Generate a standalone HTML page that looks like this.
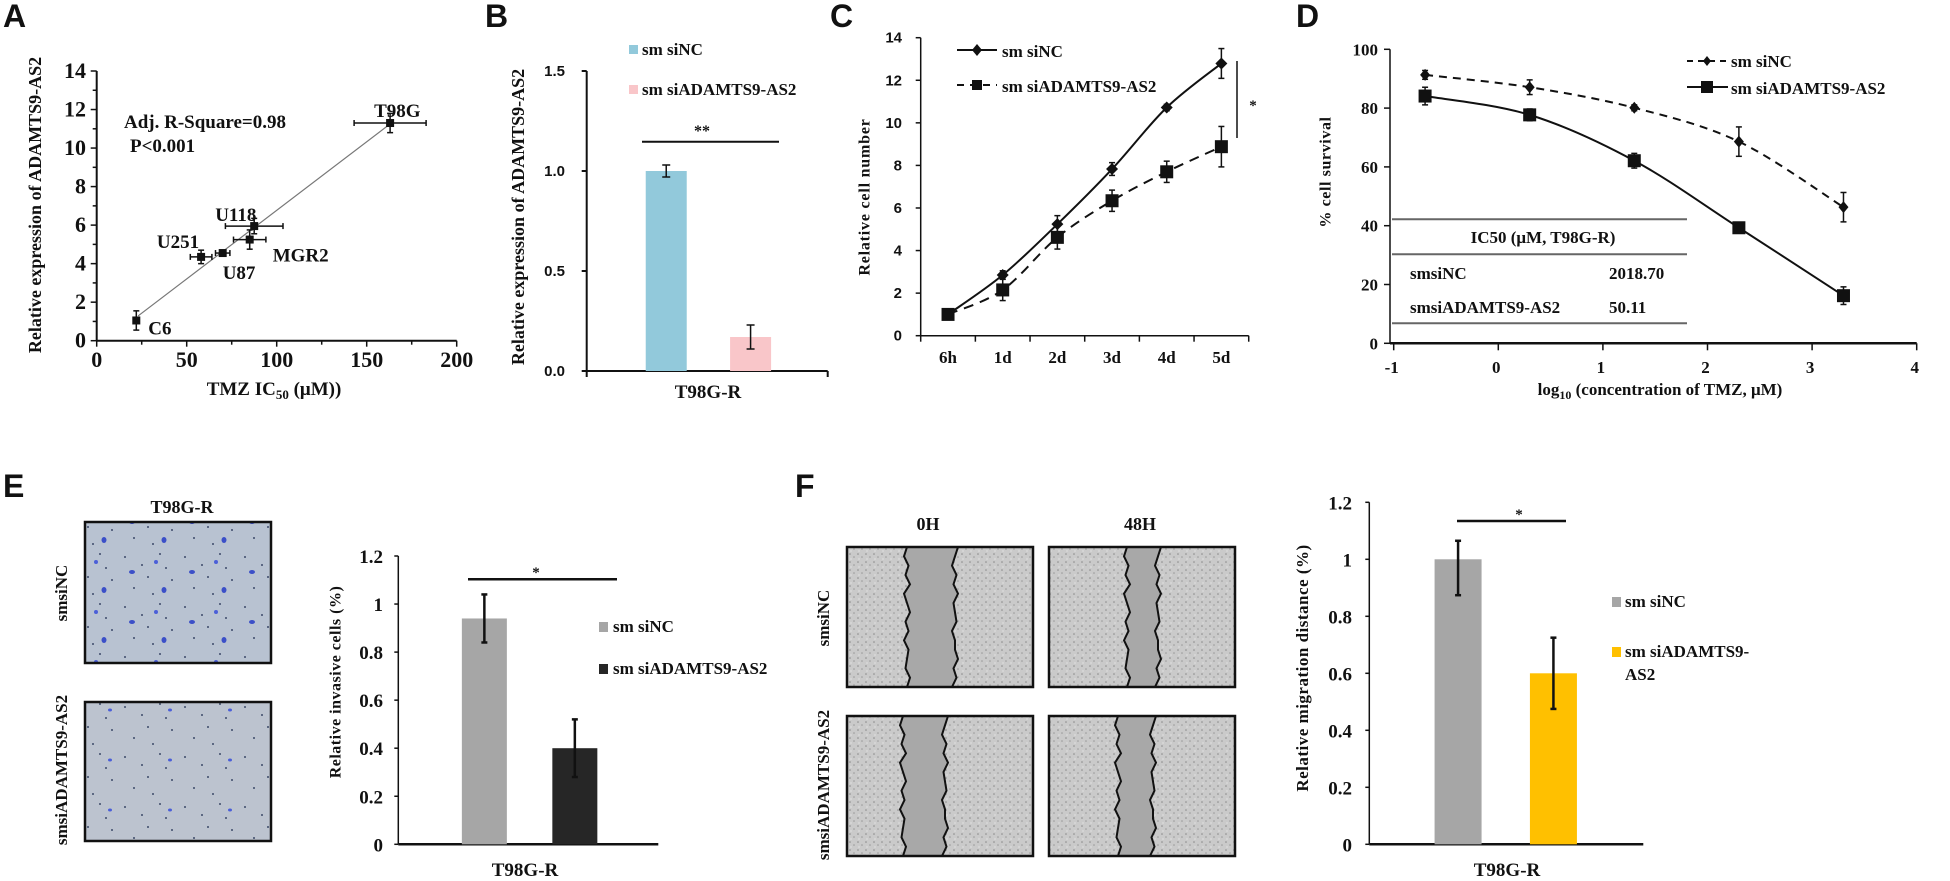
<!DOCTYPE html>
<html><head><meta charset="utf-8"><style>
html,body{margin:0;padding:0;background:#fff;}
svg{display:block;}
text{font-family:"Liberation Serif",serif;font-weight:bold;fill:#111;}
.sans{font-family:"Liberation Sans",sans-serif;}
</style></head><body>
<svg id="fig" xmlns="http://www.w3.org/2000/svg" width="1950" height="881" viewBox="0 0 1950 881">
<defs>
<pattern id="invA" width="60" height="50" patternUnits="userSpaceOnUse">
<rect width="60" height="50" fill="#B8C2D1"/>
<circle cx="5" cy="7" r="1" fill="#3d4a6a"/><circle cx="22" cy="15" r="1" fill="#3d4a6a"/><circle cx="40" cy="4" r="1" fill="#3d4a6a"/><circle cx="52" cy="30" r="1" fill="#3d4a6a"/><circle cx="14" cy="38" r="1" fill="#3d4a6a"/><circle cx="33" cy="44" r="1" fill="#3d4a6a"/><circle cx="46" cy="18" r="1" fill="#3d4a6a"/><circle cx="28" cy="27" r="1" fill="#3d4a6a"/>
<ellipse cx="12" cy="22" rx="3" ry="2" fill="#3B4FC8"/><ellipse cx="44" cy="40" rx="2.5" ry="3" fill="#3B4FC8"/><ellipse cx="36" cy="12" rx="2" ry="2" fill="#4B5FD8"/>
</pattern>
<pattern id="invB" width="60" height="50" patternUnits="userSpaceOnUse">
<rect width="60" height="50" fill="#BCC3CF"/>
<circle cx="5" cy="7" r="1" fill="#3d4a6a"/><circle cx="22" cy="15" r="1" fill="#3d4a6a"/><circle cx="40" cy="4" r="1" fill="#3d4a6a"/><circle cx="52" cy="30" r="1" fill="#3d4a6a"/><circle cx="14" cy="38" r="1" fill="#3d4a6a"/><circle cx="33" cy="44" r="1" fill="#3d4a6a"/><circle cx="46" cy="18" r="1" fill="#3d4a6a"/><circle cx="28" cy="27" r="1" fill="#3d4a6a"/>
<ellipse cx="50" cy="10" rx="2" ry="1.5" fill="#4B5FD8"/>
</pattern>
<pattern id="scr" width="8" height="8" patternUnits="userSpaceOnUse">
<rect width="8" height="8" fill="#CACACA"/><circle cx="2" cy="2" r="0.8" fill="#8a8a8a"/><circle cx="6" cy="5" r="0.8" fill="#9a9a9a"/><circle cx="3" cy="7" r="0.6" fill="#eee"/>
</pattern>
</defs>

<text class="sans" x="3" y="27" font-size="32">A</text>
<text class="sans" x="485" y="27" font-size="32">B</text>
<text class="sans" x="830" y="27" font-size="32">C</text>
<text class="sans" x="1296" y="27" font-size="32">D</text>
<text class="sans" x="3" y="497" font-size="32">E</text>
<text class="sans" x="795" y="497" font-size="32">F</text>

<!-- Panel A texts -->
<text x="37" y="205" font-size="18" text-anchor="middle" transform="rotate(-90 37 205)" dominant-baseline="middle">Relative expression of ADAMTS9-AS2</text>
<text x="274" y="395" font-size="19" text-anchor="middle">TMZ IC<tspan font-size="13" dy="4">50</tspan><tspan dy="-4"> (μM))</tspan></text>
<text x="124" y="128" font-size="19">Adj.  R-Square=0.98</text>
<text x="130" y="152" font-size="19">P&lt;0.001</text>

<!-- Panel B texts -->
<text x="520" y="217" font-size="18" text-anchor="middle" transform="rotate(-90 520 217)" dominant-baseline="middle">Relative expression of ADAMTS9-AS2</text>
<text x="708" y="398" font-size="19" text-anchor="middle">T98G-R</text>
<rect x="629" y="45" width="9" height="9" fill="#92C9DB"/>
<text x="642" y="55" font-size="17">sm siNC</text>
<rect x="629" y="85" width="9" height="9" fill="#F9C6C9"/>
<text x="642" y="95" font-size="17">sm siADAMTS9-AS2</text>
<line x1="642" y1="141.7" x2="779" y2="141.7" stroke="#111" stroke-width="2"/>
<text x="702" y="136" font-size="16" text-anchor="middle">**</text>

<!-- Panel C texts -->
<text x="866" y="197" font-size="16" text-anchor="middle" letter-spacing="0.8" transform="rotate(-90 866 197)" dominant-baseline="middle">Relative cell number</text>
<line x1="957" y1="50" x2="997" y2="50" stroke="#111" stroke-width="2"/>
<path d="M977 44 L982 50 L977 56 L972 50Z" fill="#111"/>
<text x="1002" y="57" font-size="17">sm siNC</text>
<line x1="957" y1="85" x2="997" y2="85" stroke="#111" stroke-width="2" stroke-dasharray="7,6"/>
<rect x="972" y="80" width="10" height="10" fill="#111"/>
<text x="1002" y="92" font-size="17">sm siADAMTS9-AS2</text>
<line x1="1237" y1="61" x2="1237" y2="138" stroke="#111" stroke-width="1.5"/>
<text x="1253" y="110" font-size="15" text-anchor="middle">*</text>

<!-- Panel D texts -->
<text x="1327" y="172" font-size="16" text-anchor="middle" letter-spacing="0.6" transform="rotate(-90 1327 172)" dominant-baseline="middle">% cell survival</text>
<text x="1660" y="395" font-size="17" text-anchor="middle">log<tspan font-size="12" dy="4">10</tspan><tspan dy="-4"> (concentration  of TMZ, μM)</tspan></text>
<line x1="1687" y1="61" x2="1728" y2="61" stroke="#111" stroke-width="2" stroke-dasharray="6,5"/>
<path d="M1707 56 L1711 61 L1707 66 L1703 61Z" fill="#111"/>
<text x="1731" y="67" font-size="17">sm siNC</text>
<line x1="1687" y1="87" x2="1728" y2="87" stroke="#111" stroke-width="2"/>
<rect x="1701" y="81" width="12" height="12" fill="#111"/>
<text x="1731" y="94" font-size="17">sm siADAMTS9-AS2</text>
<g>
<line x1="1392" y1="219.3" x2="1687" y2="219.3" stroke="#666" stroke-width="2"/>
<line x1="1392" y1="254.3" x2="1687" y2="254.3" stroke="#666" stroke-width="2"/>
<line x1="1392" y1="323.3" x2="1687" y2="323.3" stroke="#666" stroke-width="2"/>
<text x="1543" y="243" font-size="17" text-anchor="middle">IC50  (μM, T98G-R)</text>
<text x="1410" y="279" font-size="17">smsiNC</text>
<text x="1609" y="279" font-size="17">2018.70</text>
<text x="1410" y="313" font-size="17">smsiADAMTS9-AS2</text>
<text x="1609" y="313" font-size="17">50.11</text>
</g>

<!-- Panel E -->
<text x="182" y="513" font-size="18" text-anchor="middle">T98G-R</text>
<rect x="85" y="522" width="186" height="141" fill="url(#invA)" stroke="#111" stroke-width="2.5"/>
<rect x="85" y="702" width="186" height="139" fill="url(#invB)" stroke="#111" stroke-width="2.5"/>
<text x="63" y="593" font-size="17" text-anchor="middle" transform="rotate(-90 63 593)" dominant-baseline="middle">smsiNC</text>
<text x="63" y="770" font-size="17" text-anchor="middle" transform="rotate(-90 63 770)" dominant-baseline="middle">smsiADAMTS9-AS2</text>
<text x="337" y="682" font-size="16" text-anchor="middle" letter-spacing="0.5" transform="rotate(-90 337 682)" dominant-baseline="middle">Relative invasive cells (%)</text>
<text x="525" y="876" font-size="19" text-anchor="middle">T98G-R</text>
<rect x="599" y="622" width="9" height="10" fill="#A6A6A6"/>
<text x="613" y="632" font-size="17">sm siNC</text>
<rect x="599" y="664" width="9" height="10" fill="#262626"/>
<text x="613" y="674" font-size="17">sm siADAMTS9-AS2</text>
<line x1="468" y1="579.3" x2="617" y2="579.3" stroke="#111" stroke-width="2.5"/>
<text x="536" y="577" font-size="15" text-anchor="middle">*</text>

<!-- Panel F -->
<text x="928" y="530" font-size="18" text-anchor="middle">0H</text>
<text x="1140" y="530" font-size="18" text-anchor="middle">48H</text>
<text x="825" y="618" font-size="17" text-anchor="middle" transform="rotate(-90 825 618)" dominant-baseline="middle">smsiNC</text>
<text x="825" y="785" font-size="17" text-anchor="middle" transform="rotate(-90 825 785)" dominant-baseline="middle">smsiADAMTS9-AS2</text>
<g id="fphotos"></g>
<text x="1304" y="668" font-size="17" text-anchor="middle" letter-spacing="0.5" transform="rotate(-90 1304 668)" dominant-baseline="middle">Relative migration  distance (%)</text>
<text x="1507" y="876" font-size="19" text-anchor="middle">T98G-R</text>
<rect x="1612" y="597" width="9" height="10" fill="#A6A6A6"/>
<text x="1625" y="607" font-size="17">sm siNC</text>
<rect x="1612" y="647" width="9" height="10" fill="#FFC000"/>
<text x="1625" y="657" font-size="17">sm siADAMTS9-</text>
<text x="1625" y="680" font-size="17">AS2</text>
<line x1="1457" y1="521" x2="1566" y2="521" stroke="#111" stroke-width="2.5"/>
<text x="1519" y="519" font-size="15" text-anchor="middle">*</text>
</svg>
<script>
// ---------- DATA ----------
// Panel A
const aCells=['C6','U251','U87','MGR2','U118','T98G'];
const aIC50=[22,58,70,85,87.5,163];
const aExpr=[1.05,4.35,4.55,5.25,5.95,11.3];
const aIC50Err=[1,6,4,9,16,20];
const aExprErr=[0.5,0.35,0.15,0.5,0.4,0.5];
const aXTicks=[0,50,100,150,200];
const aYTicks=[0,2,4,6,8,10,12,14];
// Panel B
const bGroups=['sm siNC','sm siADAMTS9-AS2'];
const bValues=[1.0,0.17];
const bErrors=[0.03,0.06];
const bYTicks=['0.0','0.5','1.0','1.5'];
// Panel C
const cDays=['6h','1d','2d','3d','4d','5d'];
const cSiNC=[1.0,2.85,5.24,7.83,10.72,12.79];
const cSiNCErr=[0.15,0.2,0.4,0.3,0.15,0.7];
const cSiAD=[1.0,2.15,4.62,6.34,7.7,8.88];
const cSiADErr=[0.15,0.5,0.55,0.5,0.5,0.95];
const cYTicks=[0,2,4,6,8,10,12,14];
// Panel D
const dLogConc=[-0.7,0.3,1.3,2.3,3.3];
const dSiNC=[91.3,87.1,80.1,68.6,46.3];
const dSiNCErr=[1.5,2.5,1,5,5];
const dSiAD=[84.1,77.7,62.1,39.3,16.2];
const dSiADErr=[3,2,2.5,1,3];
const dXTicks=[-1,0,1,2,3,4];
const dYTicks=[0,20,40,60,80,100];
// Panel E
const eValues=[0.94,0.40];
const eErrors=[0.10,0.12];
const eYTicks=['0','0.2','0.4','0.6','0.8','1','1.2'];
// Panel F
const fValues=[1.0,0.60];
const fErrHigh=[0.065,0.125];
const fErrLow=[0.126,0.125];
const fYTicks=['0','0.2','0.4','0.6','0.8','1','1.2'];

// ---------- HELPERS ----------
const NS='http://www.w3.org/2000/svg';
const svg=document.getElementById('fig');
function mk(tag,attrs,parent){const e=document.createElementNS(NS,tag);for(const k in attrs)e.setAttribute(k,attrs[k]);(parent||svg).appendChild(e);return e;}
function lin(d0,d1,r0,r1){return v=>r0+(v-d0)*(r1-r0)/(d1-d0);}
function ln(x1,y1,x2,y2,w,extra){const a={x1:x1,y1:y1,x2:x2,y2:y2,stroke:'#111','stroke-width':w||1.5};if(extra)for(const k in extra)a[k]=extra[k];return mk('line',a);}
function txt(x,y,s,size,anchor,cls){const t=mk('text',{x:x,y:y,'font-size':size,'text-anchor':anchor||'middle'});if(cls)t.setAttribute('class',cls);t.textContent=s;return t;}
function smooth(pts){let d='M'+pts[0][0]+' '+pts[0][1];for(let i=0;i<pts.length-1;i++){const p0=pts[i-1]||pts[i],p1=pts[i],p2=pts[i+1],p3=pts[i+2]||p2;const c1x=p1[0]+(p2[0]-p0[0])/6,c1y=p1[1]+(p2[1]-p0[1])/6,c2x=p2[0]-(p3[0]-p1[0])/6,c2y=p2[1]-(p3[1]-p1[1])/6;d+=' C'+c1x+' '+c1y+' '+c2x+' '+c2y+' '+p2[0]+' '+p2[1];}return d;}
function vErr(x,y1,y2,cap,w){const g=mk('g',{});ln(x,y1,x,y2,w||1.5);ln(x-cap,y1,x+cap,y1,w||1.5);ln(x-cap,y2,x+cap,y2,w||1.5);return g;}

// ---------- PANEL A ----------
(function(){
const xs=lin(0,200,96.7,456.7), ys=lin(0,14,340.7,71);
let e=ln(xs(0),ys(0),xs(0),ys(14),2);


e=ln(xs(0),ys(0),xs(200),ys(0),2);


for(let v=0;v<=200;v+=25){e=ln(xs(v),ys(0),xs(v),ys(0)+(v%50===0?6:4),1.5);

}
for(let v=0;v<=14;v+=1){e=ln(xs(0),ys(v),xs(0)-(v%2===0?6:4),ys(v),1.5);

}
aXTicks.forEach(v=>{e=txt(xs(v),367,String(v),22);

});
aYTicks.forEach(v=>{e=txt(86,ys(v)+7,String(v),22,'end');

});
// regression
const n=aIC50.length;let mx=0,my=0;for(let i=0;i<n;i++){mx+=aIC50[i];my+=aExpr[i];}mx/=n;my/=n;
let sxy=0,sxx=0;for(let i=0;i<n;i++){sxy+=(aIC50[i]-mx)*(aExpr[i]-my);sxx+=(aIC50[i]-mx)**2;}
const slope=sxy/sxx,icp=my-slope*mx;const x0=Math.min(...aIC50)+1,x1=Math.max(...aIC50);
e=ln(xs(x0),ys(icp+slope*x0),xs(x1),ys(icp+slope*x1),1.2,{stroke:'#777'});


const lblDx=[12,-2,0,23,-39,-16], lblDy=[14,-9,26,22,-5,-6], lblAnchor=['start','end','start','start','start','start'];
for(let i=0;i<n;i++){
const px=xs(aIC50[i]),py=ys(aExpr[i]);
e=ln(xs(aIC50[i]-aIC50Err[i]),py,xs(aIC50[i]+aIC50Err[i]),py,1.5);


e=ln(xs(aIC50[i]-aIC50Err[i]),py-3,xs(aIC50[i]-aIC50Err[i]),py+3,1.5);


e=ln(xs(aIC50[i]+aIC50Err[i]),py-3,xs(aIC50[i]+aIC50Err[i]),py+3,1.5);


e=vErr(px,ys(aExpr[i]+aExprErr[i]),ys(aExpr[i]-aExprErr[i]),3);


e=mk('rect',{x:px-4,y:py-4,width:8,height:8,fill:'#111'});


e=txt(px+lblDx[i],py+lblDy[i],aCells[i],19,lblAnchor[i]);


}
})();

// ---------- PANEL B ----------
(function(){
const x0=586.7,x1=827.7,ys=lin(0,1.5,371,71);
let e=ln(x0,ys(0),x0,ys(1.5),2);


e=ln(x0,ys(0),x1,ys(0),2);


e=ln(x0,ys(0),x0,ys(0)+6,2);


e=ln(x1,ys(0),x1,ys(0)+6,2);


bYTicks.forEach(s=>{const v=parseFloat(s);
e=ln(x0-5,ys(v),x0,ys(v),2);


e=txt(565,ys(v)+5,s,15,'end','sans');

});
const colors=['#92C9DB','#F9C6C9'];const w=x1-x0;
bValues.forEach((v,i)=>{const cx=x0+w*(0.33+i*0.35);
e=mk('rect',{x:cx-20.5,y:ys(v),width:41,height:ys(0)-ys(v),fill:colors[i]});


e=vErr(cx,ys(v+bErrors[i]),ys(v-bErrors[i]),4,1.5);

});
})();

// ---------- PANEL C ----------
(function(){
const bx=920.7,step=54.67,ys=lin(0,14,335.7,37.7);
const cx=i=>bx+step*(i+0.5);
let e=ln(bx,ys(0),bx,ys(14),1.5);


e=ln(bx,ys(0),bx+step*cDays.length,ys(0),1.5);


for(let k=0;k<=cDays.length;k++){e=ln(bx+step*k,ys(0),bx+step*k,ys(0)+6,1.5);

}
cYTicks.forEach(v=>{e=ln(bx-5,ys(v),bx,ys(v),1.5);


e=txt(902,ys(v)+5,String(v),15,'end','sans');

});
cDays.forEach((d,i)=>{e=txt(cx(i),363,d,17);

});
e=mk('path',{d:smooth(cSiAD.map((v,i)=>[cx(i),ys(v)])),fill:'none',stroke:'#111','stroke-width':2,'stroke-dasharray':'10,7'});


e=mk('path',{d:smooth(cSiNC.map((v,i)=>[cx(i),ys(v)])),fill:'none',stroke:'#111','stroke-width':2});


cSiAD.forEach((v,i)=>{e=vErr(cx(i),ys(v+cSiADErr[i]),ys(v-cSiADErr[i]),3,1.5);


e=mk('rect',{x:cx(i)-6.5,y:ys(v)-6.5,width:13,height:13,fill:'#111'});

});
cSiNC.forEach((v,i)=>{e=vErr(cx(i),ys(v+cSiNCErr[i]),ys(v-cSiNCErr[i]),3,1.5);


const x=cx(i),y=ys(v);
e=mk('path',{d:'M'+x+' '+(y-6)+' L'+(x+6)+' '+y+' L'+x+' '+(y+6)+' L'+(x-6)+' '+y+'Z',fill:'#111'});

});
})();

// ---------- PANEL D ----------
(function(){
const xs=lin(-1,4,1393.7,1916.7),ys=lin(0,100,343.3,49.3);
let e=ln(1390,ys(0),1390,ys(100),1.5);


e=ln(1390,ys(0),xs(4),ys(0),2.5);


dXTicks.forEach(v=>{e=ln(xs(v),ys(0),xs(v),ys(0)+7,1.5);


e=txt(xs(v)-2,373,String(v),17);

});
dYTicks.forEach(v=>{e=ln(1384,ys(v),1390,ys(v),1.5);


e=txt(1378,ys(v)+6,String(v),17,'end');

});
e=mk('path',{d:smooth(dSiNC.map((v,i)=>[xs(dLogConc[i]),ys(v)])),fill:'none',stroke:'#111','stroke-width':2,'stroke-dasharray':'8,6'});


e=mk('path',{d:smooth(dSiAD.map((v,i)=>[xs(dLogConc[i]),ys(v)])),fill:'none',stroke:'#111','stroke-width':2});


dSiNC.forEach((v,i)=>{const x=xs(dLogConc[i]),y=ys(v);
e=vErr(x,ys(v+dSiNCErr[i]),ys(v-dSiNCErr[i]),3,1.5);


e=mk('path',{d:'M'+x+' '+(y-6)+' L'+(x+5)+' '+y+' L'+x+' '+(y+6)+' L'+(x-5)+' '+y+'Z',fill:'#111'});

});
dSiAD.forEach((v,i)=>{const x=xs(dLogConc[i]),y=ys(v);
e=vErr(x,ys(v+dSiADErr[i]),ys(v-dSiADErr[i]),3,1.5);


e=mk('rect',{x:x-6.5,y:y-6.5,width:13,height:13,fill:'#111'});

});
})();

// ---------- BAR PANELS E & F ----------
function barPanel(p,x0,x1,y0,yTop,vals,errHi,errLo,ticks,colors,centers,bw,labelRight){
const ys=lin(0,1.2,y0,yTop);
let e=ln(x0,y0,x0,yTop,1.5);


e=ln(x0,y0,x1,y0,2.5);


ticks.forEach(s=>{const v=parseFloat(s);
e=ln(x0-4,ys(v),x0,ys(v),1.5);


e=txt(labelRight,ys(v)+7,s,19,'end');

});
vals.forEach((v,i)=>{const cx=x0+(x1-x0)*centers[i];
e=mk('rect',{x:cx-bw/2,y:ys(v),width:bw,height:y0-ys(v),fill:colors[i]});


e=vErr(cx,ys(v+errHi[i]),ys(v-errLo[i]),3,2.5);

});
}
barPanel('e',398.3,658.3,844.3,556,eValues,eErrors,eErrors,eYTicks,['#A6A6A6','#262626'],[0.331,0.679],45,383);
barPanel('f',1369.3,1643.3,844.3,502.3,fValues,fErrHigh,fErrLow,fYTicks,['#A6A6A6','#FFC000'],[0.324,0.672],47,1352);

// ---------- F wound photos (decorative) ----------
(function(){
const g=document.getElementById('fphotos');
const photos=[[847,547,'f-photo-sinc-0h',907,955],[1049,547,'f-photo-sinc-48h',1127,1158],[847,716,'f-photo-siadamts9-0h',903,945],[1049,716,'f-photo-siadamts9-48h',1118,1153]];
const wig=[0,-2,1,-1,2,-2,0,2,-1,1,-2,1,0,-1,2,0];
photos.forEach(ph=>{const [x,y,name,gl,gr]=ph;const w=186,h=140;
let e=mk('rect',{x:x,y:y,width:w,height:h,fill:'url(#scr)'},g);


let L=[],R=[];for(let k=0;k<wig.length;k++){const yy=y+h*k/(wig.length-1);L.push([gl+wig[k]*1.5,yy]);R.push([gr-wig[(k+5)%wig.length]*1.5,yy]);}
const poly=L.concat(R.slice().reverse()).map(p=>p.join(',')).join(' ');
e=mk('polygon',{points:poly,fill:'#A8A8A8'},g);


e=mk('polyline',{points:L.map(p=>p.join(',')).join(' '),fill:'none',stroke:'#111','stroke-width':2},g);


e=mk('polyline',{points:R.map(p=>p.join(',')).join(' '),fill:'none',stroke:'#111','stroke-width':2},g);


e=mk('rect',{x:x,y:y,width:w,height:h,fill:'none',stroke:'#111','stroke-width':2.5},g);


});
})();
</script>
</body></html>
